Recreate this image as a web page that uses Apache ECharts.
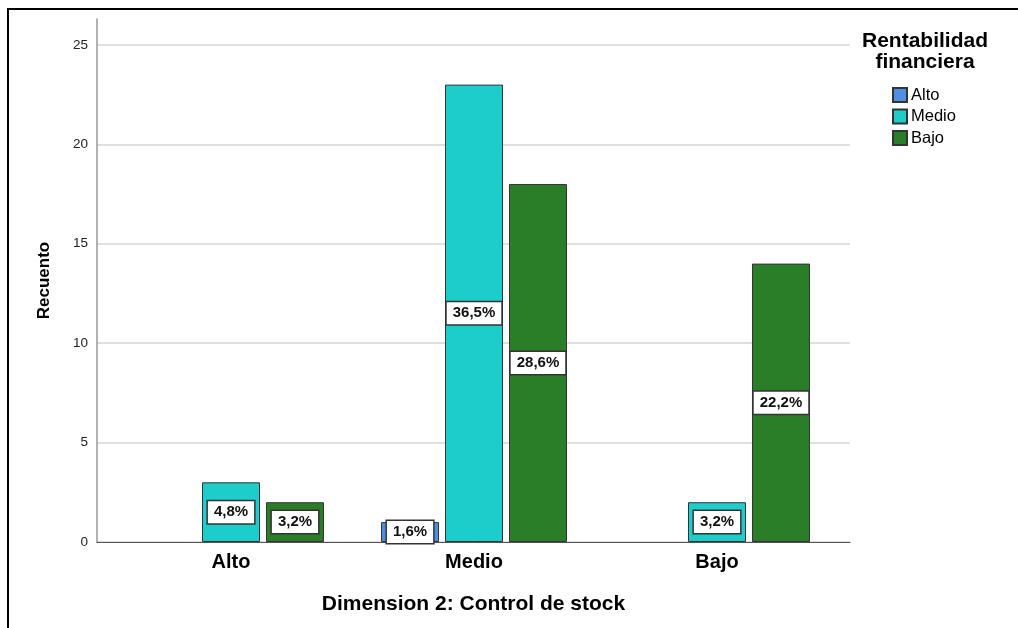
<!DOCTYPE html>
<html>
<head>
<meta charset="utf-8">
<script src="https://cdn.jsdelivr.net/npm/echarts@6/dist/echarts.min.js"></script>
<style>
  html, body { margin: 0; padding: 0; background: #fff; }
  #frame { position: absolute; left: 7px; top: 8px; width: 1100px; height: 700px;
           border-left: 2px solid #000; border-top: 2px solid #000; }
  #chart { position: absolute; left: 0; top: 0; width: 1018px; height: 628px; }
</style>
</head>
<body>
<div id="frame"></div>
<div id="chart"></div>
<script>
const categories = ['Alto', 'Medio', 'Bajo'];
const seriesNames = ['Alto', 'Medio', 'Bajo'];
const altoValues = [null, 1, null];
const medioValues = [3, 23, 2];
const bajoValues = [2, 18, 14];
const altoPct = ['', '1,6%', ''];
const medioPct = ['4,8%', '36,5%', '3,2%'];
const bajoPct = ['3,2%', '28,6%', '22,2%'];
const yTicks = [0, 5, 10, 15, 20, 25];

const colors = ['#4f8fe3', '#1ccdcb', '#2a7e28'];
const FONT = '"Liberation Sans", Arial, sans-serif';
const Y_MAX = 26.3;

function mkSeries(name, values, pct, color) {
  return {
    name: name,
    type: 'bar',
    xAxisIndex: 1,
    yAxisIndex: 1,
    data: values,
    barWidth: 58,
    barGap: '10.3%',
    itemStyle: { color: color, borderColor: '#333', borderWidth: 1 },
    label: {
      show: true,
      position: 'inside',
      formatter: p => pct[p.dataIndex],
      backgroundColor: '#fff',
      borderColor: '#333',
      borderWidth: 1.5,
      padding: [4, 6, 3, 6],
      color: '#111',
      fontFamily: FONT,
      fontWeight: 'bold',
      fontSize: 15
    },
    emphasis: { disabled: true }
  };
}

const chart = echarts.init(document.getElementById('chart'));
chart.setOption({
  animation: false,
  title: {
    text: 'Rentabilidad\nfinanciera',
    left: 925,
    top: 31,
    padding: 0,
    textAlign: 'center',
    textStyle: { fontFamily: FONT, fontWeight: 'bold', fontSize: 21, lineHeight: 21, color: '#000' }
  },
  legend: {
    orient: 'vertical',
    left: 892,
    top: 86,
    padding: 0,
    itemWidth: 14,
    itemHeight: 14,
    itemGap: 3.5,
    icon: 'rect',
    data: seriesNames,
    textStyle: { fontFamily: FONT, fontSize: 16.5, lineHeight: 18, color: '#000', padding: [0, 0, 0, -1] }
  },
  grid: [
    { left: 97, right: 168, top: 19, bottom: 86 },
    { left: 109.5, right: 179.5, top: 19, bottom: 86 }
  ],
  xAxis: [
    {
      gridIndex: 0, type: 'value', min: 0, max: 1,
      axisLine: { show: true, lineStyle: { color: '#555', width: 1 } },
      axisTick: { show: false }, axisLabel: { show: false }, splitLine: { show: false },
      name: 'Dimension 2: Control de stock',
      nameLocation: 'middle',
      nameGap: 52,
      nameTextStyle: { fontFamily: FONT, fontWeight: 'bold', fontSize: 21, color: '#000' }
    },
    {
      gridIndex: 1, type: 'category', data: categories,
      axisLine: { show: false }, axisTick: { show: false },
      axisLabel: { fontFamily: FONT, fontWeight: 'bold', fontSize: 20, color: '#000', margin: 10 }
    }
  ],
  yAxis: [
    {
      gridIndex: 0, type: 'value', min: 0, max: Y_MAX, interval: 5,
      axisLine: { show: true, lineStyle: { color: '#999', width: 1.5 } },
      axisTick: { show: false },
      axisLabel: {
        fontFamily: FONT, fontSize: 13.5, color: '#222', margin: 9,
        formatter: v => (yTicks.indexOf(v) >= 0 ? String(v) : '')
      },
      splitLine: { show: true, lineStyle: { color: ['#d4d4d4', '#d4d4d4', '#d4d4d4', '#d4d4d4', '#d4d4d4', '#d4d4d4', 'rgba(0,0,0,0)'], width: 1.5 } },
      name: 'Recuento',
      nameLocation: 'middle',
      nameGap: 44,
      nameTextStyle: { fontFamily: FONT, fontWeight: 'bold', fontSize: 17, color: '#000' }
    },
    {
      gridIndex: 1, type: 'value', min: 0, max: Y_MAX, show: false
    }
  ],
  series: [
    mkSeries(seriesNames[0], altoValues, altoPct, colors[0]),
    mkSeries(seriesNames[1], medioValues, medioPct, colors[1]),
    mkSeries(seriesNames[2], bajoValues, bajoPct, colors[2])
  ]
});
</script>
</body>
</html>
